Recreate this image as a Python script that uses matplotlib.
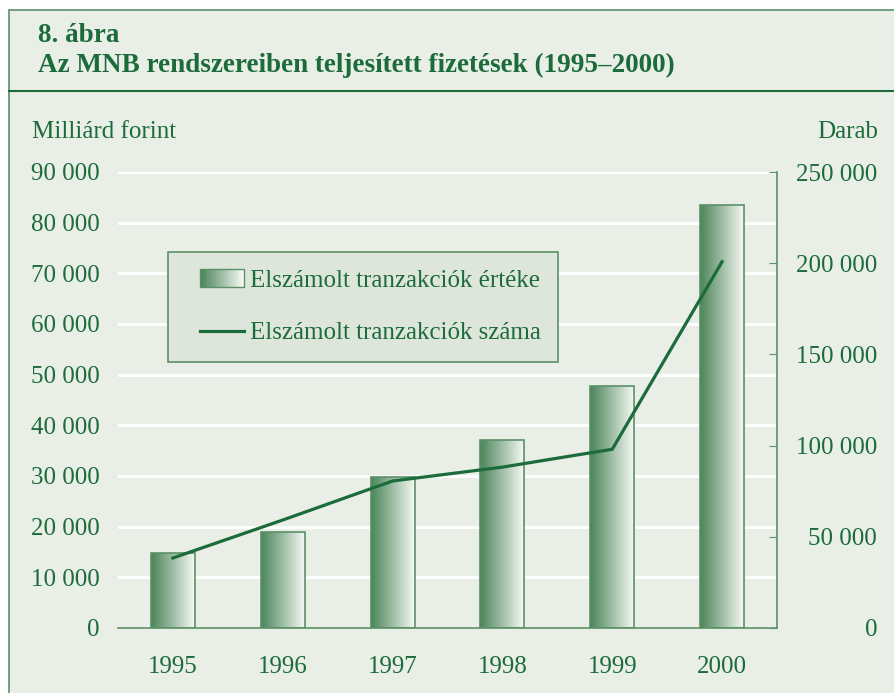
import numpy as np
import matplotlib.pyplot as plt
from matplotlib.colors import LinearSegmentedColormap
from matplotlib.legend_handler import HandlerBase, HandlerLine2D
from matplotlib.patches import Rectangle
from matplotlib.lines import Line2D

# data
years = ["1995", "1996", "1997", "1998", "1999", "2000"]
value_bn_huf = [14800, 19000, 29900, 37100, 47700, 83400]
count_pcs = [38400, 59200, 80600, 88200, 98000, 200800]
left_ticks = [0, 10000, 20000, 30000, 40000, 50000, 60000, 70000, 80000, 90000]
right_ticks = [0, 50000, 100000, 150000, 200000, 250000]

BG = "#e9eee7"
GREEN = "#1b6b3b"
EDGE = "#5c9068"
DARK = "#4b855a"
LIGHT = "#f6f9f4"
grad = LinearSegmentedColormap.from_list("g", [DARK, "#9ebda5", LIGHT])

plt.rcParams["font.family"] = ["Liberation Serif", "DejaVu Serif"]
FS = 18
XPAD = 0.58


def fmt(v):
    return f"{v:,}".replace(",", " ")


class GradientHandler(HandlerBase):
    def create_artists(self, legend, orig, xd, yd, w, h, fontsize, trans):
        n = 24
        arts = []
        for i in range(n):
            r = Rectangle((-xd + w * i / n, -yd), w / n + 0.3, h,
                          facecolor=grad(i / (n - 1)), edgecolor="none", transform=trans)
            arts.append(r)
        arts.append(Rectangle((-xd, -yd), w, h, facecolor="none", edgecolor=EDGE,
                              lw=1, transform=trans))
        return arts


fig = plt.figure(figsize=(8.94, 6.93), dpi=100)
fig.patch.set_facecolor("white")

# panel frame
fig.patches.append(Rectangle((9 / 894, -0.05), 1.1, 1 - 10 / 693 + 0.05, transform=fig.transFigure,
                             facecolor=BG, edgecolor=EDGE, lw=1.2, zorder=-5))
fig.add_artist(Line2D([9 / 894, 1], [1 - 91 / 693] * 2, transform=fig.transFigure, color=GREEN, lw=1.5))

fig.text(38 / 894, 1 - 42 / 693, "8. ábra", color=GREEN, fontsize=19.5, fontweight="bold", va="baseline")
fig.text(38 / 894, 1 - 72 / 693, "Az MNB rendszereiben teljesített fizetések (1995–2000)",
         color=GREEN, fontsize=19.5, fontweight="bold", va="baseline")
fig.text(32 / 894, 1 - 132 / 693, "Milliárd forint", color=GREEN, fontsize=FS, va="center")
fig.text(878 / 894, 1 - 132 / 693, "Darab", color=GREEN, fontsize=FS, va="center", ha="right")

ax = fig.add_axes([118 / 894, 1 - 628 / 693, 659 / 894, 456 / 693])
ax.set_facecolor("none")
x = np.arange(len(years))
bars = ax.bar(x, value_bn_huf, width=0.4, facecolor="none", edgecolor=EDGE, lw=1.2, zorder=3)
gimg = np.linspace(0, 1, 256).reshape(1, -1)
for b in bars:
    im = ax.imshow(gimg, cmap=grad, aspect="auto", zorder=2,
                   extent=[b.get_x(), b.get_x() + b.get_width(), 0, b.get_height()])
    im.set_clip_path(b)

ax.set_xlim(-0.5, 5.5)
ax.set_ylim(0, 90000)
ax.set_xticks(x, years)
ax.set_yticks(left_ticks, [fmt(v) for v in left_ticks])
ax.grid(axis="y", color="white", lw=2)
ax.set_axisbelow(True)
for s in ["left", "top", "right"]:
    ax.spines[s].set_visible(False)
ax.spines["bottom"].set_color(EDGE)
ax.spines["bottom"].set_linewidth(1.2)
ax.tick_params(axis="x", length=0, pad=20, labelsize=FS, labelcolor=GREEN)
ax.tick_params(axis="y", length=0, pad=13, labelsize=FS, labelcolor=GREEN)

ax2 = ax.twinx()
ax2.plot(x, count_pcs, color=GREEN, lw=2.3, zorder=4)
ax2.set_ylim(0, 250000)
ax2.set_yticks(right_ticks, [fmt(v) for v in right_ticks])
for s in ["left", "top", "bottom"]:
    ax2.spines[s].set_visible(False)
ax2.spines["right"].set_color(EDGE)
ax2.spines["right"].set_linewidth(1.2)
ax2.tick_params(axis="y", direction="in", length=6, color=EDGE, pad=72, labelsize=FS, labelcolor=GREEN)
for lab in ax2.get_yticklabels():
    lab.set_horizontalalignment("right")

h_bar = Rectangle((0, 0), 1, 1)
h_line = Line2D([], [], color=GREEN, lw=2.3)
leg = ax2.legend([h_bar, h_line], ["Elszámolt tranzakciók értéke", "Elszámolt tranzakciók száma"],
                 handler_map={Rectangle: GradientHandler(xpad=XPAD), Line2D: HandlerLine2D(xpad=XPAD)},
                 loc="upper left", bbox_to_anchor=(0.076, 0.825), fontsize=FS,
                 frameon=True, fancybox=False, facecolor="#dee6db", edgecolor=EDGE, framealpha=1,
                 labelspacing=1.2, handlelength=1.75 + XPAD, handletextpad=0.25, borderpad=0.7,
                 borderaxespad=0)
leg.get_frame().set_linewidth(1.2)
for t in leg.get_texts():
    t.set_color(GREEN)

fig.savefig("out.png", dpi=100)
